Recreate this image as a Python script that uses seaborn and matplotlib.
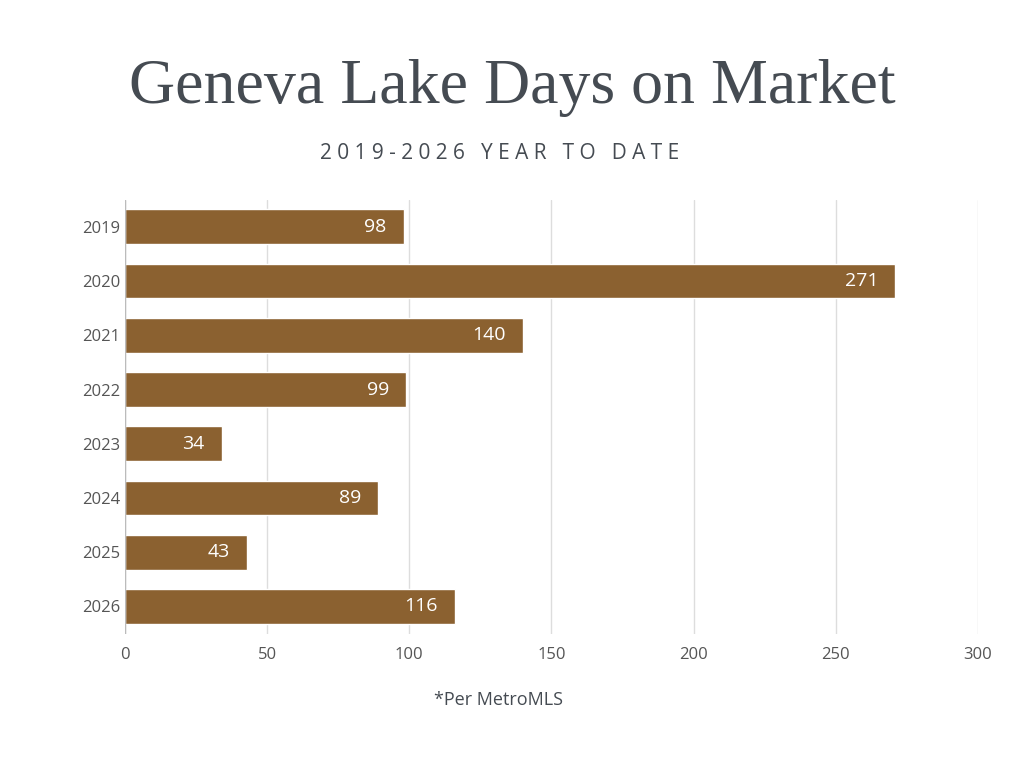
import seaborn as sns
import matplotlib.pyplot as plt
import pandas as pd

years = ["2019", "2020", "2021", "2022", "2023", "2024", "2025", "2026"]
days = [98, 271, 140, 99, 34, 89, 43, 116]
xticks = [0, 50, 100, 150, 200, 250, 300]

df = pd.DataFrame({"year": years, "days": days})

sns.set_theme(style="white")
plt.rcParams["font.family"] = ["Open Sans", "DejaVu Sans"]

fig = plt.figure(figsize=(10.24, 7.68), dpi=100)
ax = fig.add_axes([0.122, 0.175, 0.833, 0.565])

sns.barplot(data=df, x="days", y="year", color="#8B6130", saturation=1,
            width=0.64, ax=ax)

for i, v in enumerate(days):
    ax.text(v - 6, i, str(v), ha="right", va="center", color="white", fontsize=14)

ax.set_xlim(0, 300)
ax.set_xticks(xticks)
ax.grid(axis="x", color="#dddddd", linewidth=1)
ax.set_axisbelow(True)
for s in ax.spines.values():
    s.set_visible(False)
ax.axvline(0, color="#bbbbbb", linewidth=1)
ax.set_xlabel("")
ax.set_ylabel("")
ax.tick_params(axis="both", labelsize=12, colors="#555555", length=0)
ax.tick_params(axis="x", pad=10)

fig.text(0.5, 0.885, "Geneva Lake Days on Market", ha="center", va="center",
         fontsize=46, color="#454B52", family=["Liberation Serif", "DejaVu Serif"])
fig.text(0.488, 0.80, " ".join("2019-2026 YEAR TO DATE"), ha="center", va="center",
         fontsize=15, color="#454B52")
fig.text(0.487, 0.088, "*Per MetroMLS", ha="center", va="center",
         fontsize=13, color="#454B52")

fig.savefig("out.png", dpi=100, facecolor="white")
